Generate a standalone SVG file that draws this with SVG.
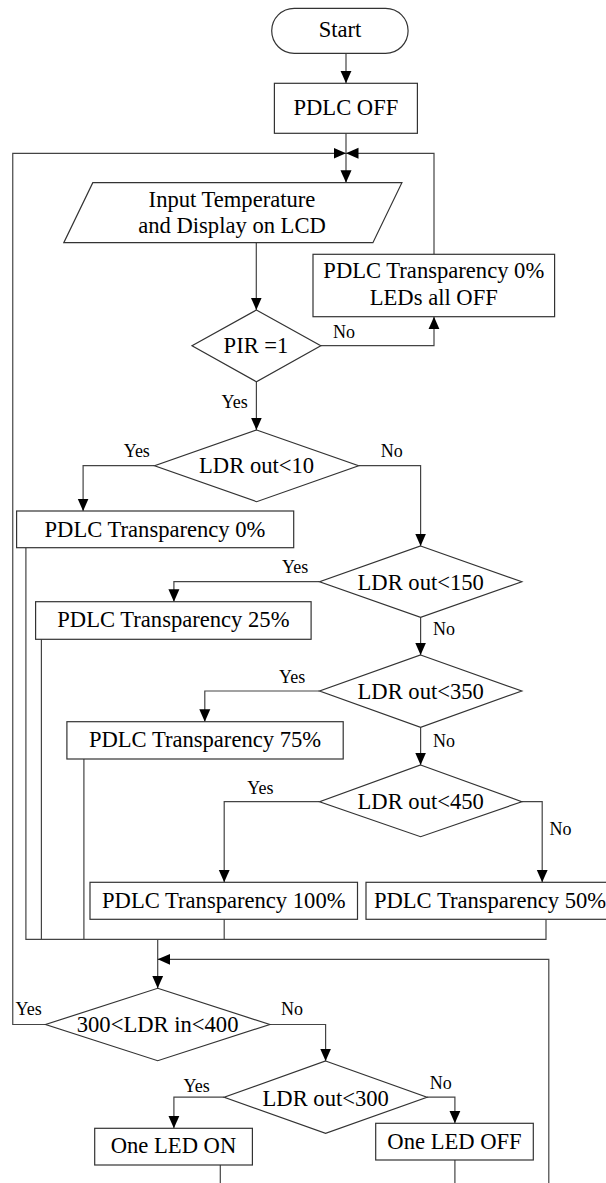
<svg xmlns="http://www.w3.org/2000/svg" width="606" height="1183" viewBox="0 0 606 1183" font-family="Liberation Serif, Times New Roman, Noto Serif, DejaVu Serif, serif">
<style>
.shape{fill:#fff;stroke:#333;stroke-width:1.2}
.t{font-family:Liberation Serif, Times New Roman, Noto Serif, DejaVu Serif, serif;font-size:22.6px;fill:#000;text-anchor:middle}
.lbl{font-family:Liberation Serif, Times New Roman, Noto Serif, DejaVu Serif, serif;font-size:18px;fill:#000}
.edge{fill:none;stroke:#444;stroke-width:1.2}
</style>
<defs>
<marker id="arr" markerUnits="userSpaceOnUse" markerWidth="13" markerHeight="12" refX="12.5" refY="6" orient="auto">
<path d="M0,0.5 L12.5,6 L0,11.5 z" fill="#000"/>
</marker>
</defs>
<rect width="606" height="1183" fill="#fff"/>
<g id="connectors">
<path class="edge" d="M346,53.3 V83.3" marker-end="url(#arr)"/>
<path class="edge" d="M346,133.3 V182.7" marker-end="url(#arr)"/>
<path class="edge" d="M45.6,1024.5 H12.75 V153.3 H346" marker-end="url(#arr)"/>
<path class="edge" d="M434,254.3 V153.3 H346" marker-end="url(#arr)"/>
<path class="edge" d="M256.3,242.7 V310" marker-end="url(#arr)"/>
<path class="edge" d="M320.8,345.7 H434 V316.7" marker-end="url(#arr)"/>
<path class="edge" d="M256.4,381.7 V430" marker-end="url(#arr)"/>
<path class="edge" d="M154.6,465.7 H83.1 V511" marker-end="url(#arr)"/>
<path class="edge" d="M358.6,465.7 H420.6 V546" marker-end="url(#arr)"/>
<path class="edge" d="M319.6,581.7 H173.9 V601.7" marker-end="url(#arr)"/>
<path class="edge" d="M420.6,617.3 V655" marker-end="url(#arr)"/>
<path class="edge" d="M319.6,691 H204.8 V721.7" marker-end="url(#arr)"/>
<path class="edge" d="M420.6,727.3 V765" marker-end="url(#arr)"/>
<path class="edge" d="M319.6,801.7 H224.2 V882.3" marker-end="url(#arr)"/>
<path class="edge" d="M521.8,801.7 H542.2 V882.3" marker-end="url(#arr)"/>
<path class="edge" d="M25.9,547.7 V939.3 H546 V919.3"/>
<path class="edge" d="M41.4,639.3 V939.3"/>
<path class="edge" d="M83.9,759 V939.3"/>
<path class="edge" d="M224.2,919.3 V939.3"/>
<path class="edge" d="M157.7,939.3 V988.3" marker-end="url(#arr)"/>
<path class="edge" d="M548.8,1183 V959.3 H157.7" marker-end="url(#arr)"/>
<path class="edge" d="M269.8,1024.5 H325.6 V1061" marker-end="url(#arr)"/>
<path class="edge" d="M224.2,1097.2 H173.9 V1128.3" marker-end="url(#arr)"/>
<path class="edge" d="M427,1097.2 H454.9 V1123.3" marker-end="url(#arr)"/>
<path class="edge" d="M220.3,1165 V1183"/>
<path class="edge" d="M454.9,1160 V1183"/>
</g>
<g id="labels">
<text class="lbl" x="333" y="338.3">No</text>
<text class="lbl" x="221.5" y="408">Yes</text>
<text class="lbl" x="123.7" y="457">Yes</text>
<text class="lbl" x="380.7" y="457">No</text>
<text class="lbl" x="282" y="573">Yes</text>
<text class="lbl" x="432.9" y="635">No</text>
<text class="lbl" x="279" y="683.3">Yes</text>
<text class="lbl" x="432.9" y="747.3">No</text>
<text class="lbl" x="247.3" y="794.3">Yes</text>
<text class="lbl" x="549.6" y="835">No</text>
<text class="lbl" x="15.5" y="1015">Yes</text>
<text class="lbl" x="281" y="1015">No</text>
<text class="lbl" x="183.6" y="1091.7">Yes</text>
<text class="lbl" x="429.8" y="1089.3">No</text>
</g>
<g id="start">
<rect class="shape" x="271.7" y="8.3" width="136.4" height="45" rx="22.5" ry="22.5"/>
<text class="t" x="340" y="37.3">Start</text>
</g>
<g id="pdlc-off">
<rect class="shape" x="274.4" y="83.3" width="143" height="50"/>
<text class="t" x="345.9" y="115">PDLC OFF</text>
</g>
<g id="input">
<polygon class="shape" points="92.8,182.7 401.9,182.7 372.9,242.7 63.8,242.7"/>
<text class="t" x="232" y="206.7">Input Temperature</text>
<text class="t" x="232" y="233.3">and Display on LCD</text>
</g>
<g id="leds-off">
<rect class="shape" x="313" y="254.3" width="241.6" height="62.4"/>
<text class="t" x="433.8" y="278.3">PDLC Transparency 0%</text>
<text class="t" x="433.8" y="305">LEDs all OFF</text>
</g>
<g id="pir">
<polygon class="shape" points="256.4,310 320.8,345.7 256.4,381.7 192,345.7"/>
<text class="t" x="256" y="353">PIR =1</text>
</g>
<g id="ldr10">
<polygon class="shape" points="256.6,430 358.6,465.7 256.6,501.7 154.6,465.7"/>
<text class="t" x="256.6" y="473">LDR out&lt;10</text>
</g>
<g id="t0">
<rect class="shape" x="16.6" y="511" width="277.1" height="36.7"/>
<text class="t" x="155" y="536.7">PDLC Transparency 0%</text>
</g>
<g id="ldr150">
<polygon class="shape" points="420.6,546 521.8,581.7 420.6,617.3 319.6,581.7"/>
<text class="t" x="420.7" y="590">LDR out&lt;150</text>
</g>
<g id="t25">
<rect class="shape" x="35.6" y="601.7" width="275.5" height="37.6"/>
<text class="t" x="173.4" y="626.7">PDLC Transparency 25%</text>
</g>
<g id="ldr350">
<polygon class="shape" points="420.6,655 521.8,691 420.6,727.3 319.6,691"/>
<text class="t" x="420.7" y="699">LDR out&lt;350</text>
</g>
<g id="t75">
<rect class="shape" x="66.9" y="721.7" width="276.3" height="37.3"/>
<text class="t" x="205" y="746.7">PDLC Transparency 75%</text>
</g>
<g id="ldr450">
<polygon class="shape" points="420.6,765 521.8,801.7 420.6,836.7 319.6,801.7"/>
<text class="t" x="420.7" y="809">LDR out&lt;450</text>
</g>
<g id="t100">
<rect class="shape" x="90" y="882.3" width="267.5" height="37"/>
<text class="t" x="223.8" y="908.3">PDLC Transparency 100%</text>
</g>
<g id="t50">
<rect class="shape" x="366" y="882.3" width="248" height="37"/>
<text class="t" x="490" y="908.3">PDLC Transparency 50%</text>
</g>
<g id="ldrin">
<polygon class="shape" points="157.7,988.3 269.8,1024.5 157.7,1060.7 45.6,1024.5"/>
<text class="t" x="157.6" y="1031.5">300&lt;LDR in&lt;400</text>
</g>
<g id="ldr300">
<polygon class="shape" points="325.6,1061 427,1097.2 325.6,1133.3 224.2,1097.2"/>
<text class="t" x="325.7" y="1105.5">LDR out&lt;300</text>
</g>
<g id="led-on">
<rect class="shape" x="94.7" y="1128.3" width="157.7" height="36.7"/>
<text class="t" x="173.5" y="1153.3">One LED ON</text>
</g>
<g id="led-off">
<rect class="shape" x="375.7" y="1123.3" width="157.6" height="36.7"/>
<text class="t" x="454.5" y="1149.3">One LED OFF</text>
</g>
</svg>
